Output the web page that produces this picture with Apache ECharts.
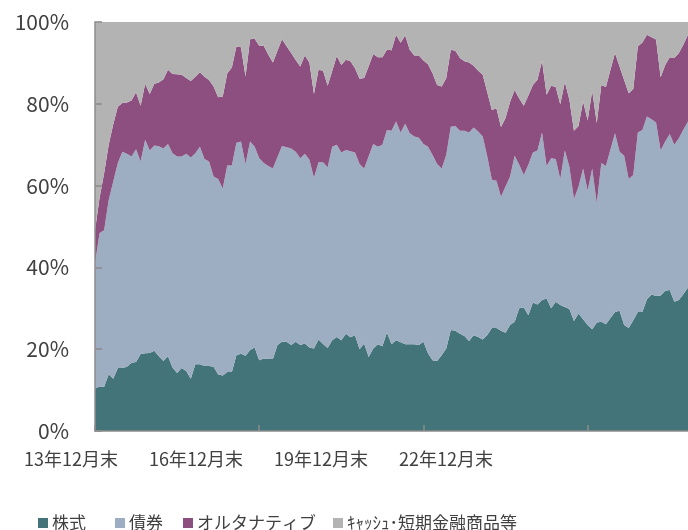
<!DOCTYPE html>
<html>
<head>
<meta charset="utf-8">
<script src="https://cdn.jsdelivr.net/npm/echarts@6/dist/echarts.min.js"></script>
<style>
  html, body { margin: 0; padding: 0; background: #fff; }
  #chart { width: 688px; height: 530px; }
</style>
</head>
<body>
<div id="chart"></div>
<script>
// monthly, 13年12月末 .. 24年10月末
const months = []
for (let i = 0; i <= 130; i++) {
  const y = 2013 + Math.floor((11 + i) / 12)
  const m = (11 + i) % 12 + 1
  months.push(String(y).slice(2) + '年' + m + '月末')
}

const seriesNames = ['株式', '債券', 'オルタナティブ', 'ｷｬｯｼｭ･短期金融商品等']

const stockData = [
  10.4, 10.9, 10.8, 13.9, 12.8, 15.4, 15.4, 15.7, 16.7, 16.9,
  18.8, 19.0, 19.1, 19.6, 18.3, 17.1, 18.3, 15.5, 14.2, 15.4,
  14.7, 12.8, 16.3, 16.3, 15.9, 15.9, 15.7, 13.8, 13.6, 14.4,
  14.4, 18.5, 18.9, 18.4, 19.8, 20.4, 17.3, 17.7, 17.6, 17.6,
  21.0, 21.8, 21.8, 21.0, 21.8, 21.0, 21.4, 20.4, 20.2, 22.4,
  21.3, 20.3, 22.2, 23.0, 22.2, 23.8, 22.9, 23.4, 20.0, 21.4,
  18.1, 20.2, 21.2, 20.7, 24.1, 21.2, 22.2, 21.7, 21.2, 21.2,
  21.2, 21.0, 21.8, 19.0, 17.3, 17.1, 18.5, 20.2, 24.7, 24.5,
  23.8, 23.2, 22.0, 23.4, 23.0, 22.4, 23.5, 25.2, 25.2, 24.5,
  24.0, 25.9, 26.7, 30.0, 30.2, 28.3, 31.4, 30.9, 32.0, 32.4,
  30.0, 31.6, 30.8, 30.3, 29.8, 26.9, 28.7, 27.3, 25.9, 24.9,
  26.5, 26.7, 26.1, 27.6, 29.1, 29.4, 25.9, 25.2, 27.1, 29.1,
  29.1, 32.2, 33.4, 33.0, 33.1, 34.3, 34.5, 31.6, 32.0, 33.5,
  35.1
]

const bondData = [
  30.6, 37.5, 38.3, 42.6, 48.2, 50.1, 52.9, 52.1, 50.4, 52.0,
  47.1, 52.2, 49.5, 50.2, 51.3, 52.0, 51.9, 52.4, 52.9, 51.7,
  53.1, 54.1, 51.6, 53.2, 50.6, 50.0, 46.5, 47.8, 45.7, 50.5,
  50.5, 52.0, 51.9, 46.9, 51.0, 49.1, 49.4, 47.8, 47.2, 46.6,
  46.0, 47.9, 47.6, 48.1, 46.5, 45.7, 46.4, 45.9, 41.7, 43.3,
  44.4, 44.2, 47.3, 47.0, 45.9, 44.9, 45.5, 44.7, 45.3, 42.8,
  49.1, 50.0, 48.3, 49.3, 49.5, 52.2, 53.5, 51.3, 53.9, 51.6,
  50.8, 50.7, 48.4, 50.5, 50.2, 48.2, 45.7, 47.3, 49.7, 50.1,
  49.6, 50.2, 51.0, 50.8, 50.2, 49.6, 43.6, 36.2, 36.0, 32.8,
  35.8, 36.3, 40.6, 35.1, 32.4, 36.8, 36.7, 37.7, 41.0, 32.4,
  36.7, 34.9, 30.8, 38.3, 34.8, 29.8, 31.0, 36.9, 32.9, 39.3,
  29.2, 38.8, 38.7, 41.2, 43.7, 38.9, 41.4, 36.4, 35.5, 43.9,
  44.5, 44.7, 42.8, 42.4, 35.5, 36.5, 38.1, 38.4, 39.6, 40.2,
  40.6
]

const altData = [
  8.0, 8.6, 13.9, 13.5, 14.0, 13.8, 11.9, 12.5, 13.7, 13.9,
  13.6, 13.7, 13.8, 15.1, 15.6, 16.9, 18.1, 19.4, 20.1, 20.0,
  18.5, 18.7, 18.7, 18.2, 20.1, 19.9, 22.0, 20.0, 22.5, 22.6,
  24.0, 23.5, 23.0, 21.4, 25.0, 26.4, 27.5, 28.7, 27.2, 25.9,
  26.0, 26.1, 24.7, 23.3, 22.4, 22.4, 24.0, 23.8, 20.5, 22.6,
  22.4, 19.9, 18.5, 21.7, 21.4, 22.1, 22.0, 20.6, 20.8, 22.1,
  22.0, 22.0, 21.9, 21.4, 19.6, 19.7, 21.2, 21.9, 21.6, 20.4,
  19.8, 20.1, 20.4, 20.2, 20.0, 19.3, 20.0, 18.8, 18.8, 18.4,
  17.8, 17.0, 17.1, 15.1, 14.9, 15.1, 15.7, 17.1, 17.7, 17.0,
  16.7, 18.3, 16.1, 16.2, 16.9, 16.9, 16.5, 17.3, 17.5, 17.4,
  17.7, 17.6, 18.3, 16.7, 16.4, 16.7, 14.9, 16.4, 17.1, 19.0,
  19.6, 19.1, 19.3, 19.5, 19.6, 20.8, 18.5, 21.0, 21.0, 21.0,
  21.4, 20.0, 20.1, 20.3, 17.9, 18.7, 18.8, 21.2, 20.8, 20.8,
  21.2
]

const cashData = [
  51.0, 43.0, 37.0, 30.0, 25.0, 20.7, 19.8, 19.7, 19.2, 17.2,
  20.5, 15.1, 17.6, 15.1, 14.8, 14.0, 11.7, 12.7, 12.8, 12.9,
  13.7, 14.4, 13.4, 12.3, 13.4, 14.2, 15.8, 18.4, 18.2, 12.5,
  11.1, 6.0, 6.2, 13.3, 4.2, 4.1, 5.8, 5.8, 8.0, 9.9,
  7.0, 4.2, 5.9, 7.6, 9.3, 10.9, 8.2, 9.9, 17.6, 11.7,
  11.9, 15.6, 12.0, 8.3, 10.5, 9.2, 9.6, 11.3, 13.9, 13.7,
  10.8, 7.8, 8.6, 8.6, 6.8, 6.9, 3.1, 5.1, 3.3, 6.8,
  8.2, 8.2, 9.4, 10.3, 12.5, 15.4, 15.8, 13.7, 6.8, 7.0,
  8.8, 9.6, 9.9, 10.7, 11.9, 12.9, 17.2, 21.5, 21.1, 25.7,
  23.5, 19.5, 16.6, 18.7, 20.5, 18.0, 15.4, 14.1, 9.5, 17.8,
  15.6, 15.9, 20.1, 14.7, 19.0, 26.6, 25.4, 19.4, 24.1, 16.8,
  24.7, 15.4, 15.9, 11.7, 7.6, 10.9, 14.2, 17.4, 16.4, 6.0,
  5.0, 3.1, 3.7, 4.3, 13.5, 10.5, 8.6, 8.8, 7.6, 5.5,
  3.1
]

const colors = ['#437479', '#9dadc2', '#8c4f80', '#b3b3b3']
const legendLeft = [38, 115, 183, 333]
const tickEvery = 36

const chart = echarts.init(document.getElementById('chart'))
const font = '"Noto Sans CJK JP", "Noto Sans", sans-serif'
const textColor = '#404040'
const axisColor = '#8c8c8c'

const areas = [stockData, bondData, altData, cashData].map((data, k) => ({
  name: seriesNames[k],
  type: 'line',
  stack: 'total',
  data: data,
  showSymbol: false,
  symbol: 'none',
  lineStyle: { width: 0 },
  areaStyle: { color: colors[k], opacity: 1 },
  itemStyle: { color: colors[k] },
  silent: true,
  z: 2
}))

chart.setOption({
  animation: false,
  textStyle: { fontFamily: font },
  legend: seriesNames.map((n, k) => ({
    data: [n],
    left: legendLeft[k],
    top: 512,
    padding: 0,
    icon: 'rect',
    itemWidth: 10,
    itemHeight: 10,
    itemGap: 4,
    selectedMode: false,
    textStyle: { fontSize: 17, color: textColor, fontFamily: font, lineHeight: 22, padding: [0, 0, 0, -1] }
  })),
  grid: [
    { left: 95, right: 0, top: 22, height: 409 },
    // label strip, labels sit at their own spacing in the original
    { left: 71, width: 451.4, top: 22, height: 409 }
  ],
  xAxis: [
    {
      type: 'category',
      gridIndex: 0,
      data: months,
      boundaryGap: false,
      axisLine: { lineStyle: { color: axisColor, width: 1.5 } },
      axisTick: { inside: true, length: 6, interval: i => i % tickEvery === 0, lineStyle: { color: axisColor, width: 1.5 } },
      axisLabel: { show: false },
      splitLine: { show: false },
      z: 5
    },
    {
      type: 'category',
      gridIndex: 1,
      data: months,
      boundaryGap: false,
      axisLine: { show: false },
      axisTick: { show: false },
      axisLabel: {
        interval: i => i % tickEvery === 0,
        margin: 19,
        fontSize: 18,
        color: textColor,
        fontFamily: font
      },
      splitLine: { show: false }
    }
  ],
  yAxis: [
    {
      type: 'value',
      gridIndex: 0,
      min: 0,
      max: 100,
      interval: 20,
      axisLine: { show: true, lineStyle: { color: axisColor, width: 1.5 } },
      axisTick: { show: true, inside: true, length: 7, lineStyle: { color: axisColor, width: 1.5 } },
      axisLabel: { formatter: '{value}%', margin: 26, fontSize: 21, color: textColor, fontFamily: font },
      splitLine: { show: false },
      z: 5
    },
    { type: 'value', gridIndex: 1, show: false, min: 0, max: 100 }
  ],
  series: areas
})
</script>
</body>
</html>
